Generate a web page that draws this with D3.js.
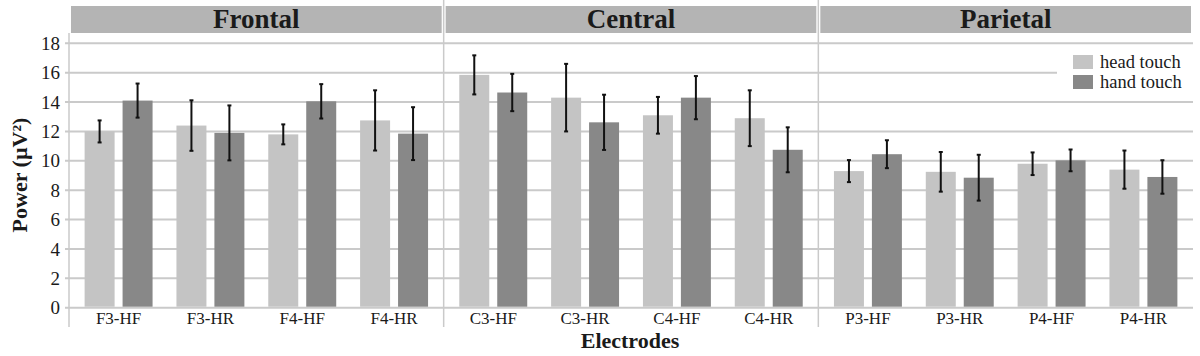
<!DOCTYPE html>
<html>
<head>
<meta charset="utf-8">
<script src="https://cdn.jsdelivr.net/npm/d3@7"></script>
<style>
  body { margin: 0; background: #fff; }
  text { font-family: "Liberation Serif", "Times New Roman", serif; fill: #1a1a1a; }
</style>
</head>
<body>
<script>
// regions and electrodes
var regions = ["Frontal", "Central", "Parietal"];
var electrodes = [
  ["F3-HF", "F3-HR", "F4-HF", "F4-HR"],
  ["C3-HF", "C3-HR", "C4-HF", "C4-HR"],
  ["P3-HF", "P3-HR", "P4-HF", "P4-HR"]
];
var seriesNames = ["head touch", "hand touch"];

// mean power per electrode (same order as electrodes, flattened)
var headTouch = [12.0, 12.4, 11.8, 12.75, 15.85, 14.3, 13.1, 12.9, 9.3, 9.25, 9.8, 9.4];
var handTouch = [14.1, 11.9, 14.05, 11.85, 14.65, 12.62, 14.3, 10.75, 10.45, 8.85, 10.03, 8.9];
var headErr = [0.75, 1.72, 0.68, 2.05, 1.33, 2.3, 1.25, 1.9, 0.75, 1.35, 0.77, 1.3];
var handErr = [1.16, 1.87, 1.17, 1.8, 1.27, 1.88, 1.47, 1.53, 0.95, 1.56, 0.74, 1.14];
var yTicks = [0, 2, 4, 6, 8, 10, 12, 14, 16, 18];

const W = 1200, H = 356;
const margin = {top: 43, left: 69, right: 7, bottom: 49};
const plotW = W - margin.left - margin.right,
      plotH = H - margin.top - margin.bottom;

var headColor = "#c4c4c4", handColor = "#888888", gridColor = "#cacaca";

var svg = d3.select("body").append("svg")
  .attr("width", W)
  .attr("height", H);

var y = d3.scaleLinear()
  .domain([0, 18])
  .range([margin.top + plotH + 0.7, margin.top + 0.3]);

var panel = d3.scaleBand()
  .domain(regions)
  .range([margin.left, margin.left + plotW])
  .padding(0);

// gridlines
svg.append("g")
  .selectAll("line")
  .data(yTicks)
  .enter()
  .append("line")
  .attr("x1", margin.left - 4)
  .attr("x2", margin.left + plotW)
  .attr("y1", function(d) { return y(d); })
  .attr("y2", function(d) { return y(d); })
  .attr("stroke", gridColor)
  .attr("stroke-width", 2);

// y tick labels
svg.append("g")
  .selectAll("text")
  .data(yTicks)
  .enter()
  .append("text")
  .attr("x", 60)
  .attr("y", function(d) { return y(d); })
  .attr("dy", "0.35em")
  .attr("text-anchor", "end")
  .style("font-size", "19px")
  .text(function(d) { return d; });

// left axis line and panel dividers
svg.append("line")
  .attr("x1", margin.left).attr("x2", margin.left)
  .attr("y1", 33).attr("y2", 327)
  .attr("stroke", gridColor).attr("stroke-width", 1.5);

svg.append("g")
  .selectAll("line")
  .data(regions.slice(1))
  .enter()
  .append("line")
  .attr("x1", function(d) { return panel(d); })
  .attr("x2", function(d) { return panel(d); })
  .attr("y1", 0).attr("y2", 327)
  .attr("stroke", gridColor).attr("stroke-width", 1.5);

// headers
var headers = svg.append("g")
  .selectAll("g")
  .data(regions)
  .enter()
  .append("g");

headers.append("rect")
  .attr("x", function(d) { return panel(d) + 2; })
  .attr("y", 6)
  .attr("width", panel.bandwidth() - 4)
  .attr("height", 27)
  .attr("fill", "#b4b4b4");

headers.append("text")
  .attr("x", function(d) { return panel(d) + panel.bandwidth() / 2; })
  .attr("y", 28)
  .attr("text-anchor", "middle")
  .style("font-size", "27px")
  .style("font-weight", "bold")
  .text(function(d) { return d; });

// legend box (covers a gridline)
svg.append("rect")
  .attr("x", 1057).attr("y", 48)
  .attr("width", 136).attr("height", 48)
  .attr("fill", "#fff");

// bars
regions.forEach(function(region, ri) {
  var x = d3.scaleBand()
    .domain(electrodes[ri])
    .range([panel(region), panel(region) + panel.bandwidth()])
    .paddingInner(0.26)
    .paddingOuter(0.17);
  var sub = d3.scaleBand()
    .domain(seriesNames)
    .range([0, x.bandwidth()])
    .paddingInner(0.21);

  var rows = electrodes[ri].map(function(e, i) {
    var k = ri * 4 + i;
    return {name: e, vals: [
      {s: seriesNames[0], v: headTouch[k], err: headErr[k], c: headColor},
      {s: seriesNames[1], v: handTouch[k], err: handErr[k], c: handColor}
    ]};
  });

  var g = svg.append("g");
  var cat = g.selectAll(".cat")
    .data(rows)
    .enter()
    .append("g")
    .attr("class", "cat")
    .attr("transform", function(d) { return "translate(" + x(d.name) + ",0)"; });

  cat.selectAll("rect")
    .data(function(d) { return d.vals; })
    .enter()
    .append("rect")
    .attr("x", function(d) { return sub(d.s); })
    .attr("width", sub.bandwidth())
    .attr("y", function(d) { return y(d.v); })
    .attr("height", function(d) { return y(0) - y(d.v) - 1; })
    .attr("fill", function(d) { return d.c; });

  var eb = cat.selectAll(".err")
    .data(function(d) { return d.vals; })
    .enter()
    .append("g")
    .attr("class", "err")
    .attr("transform", function(d) { return "translate(" + (sub(d.s) + sub.bandwidth() / 2) + ",0)"; });
  eb.append("line")
    .attr("y1", function(d) { return y(d.v + d.err); })
    .attr("y2", function(d) { return y(d.v - d.err); })
    .attr("stroke", "#111").attr("stroke-width", 2);
  eb.append("line")
    .attr("x1", -2).attr("x2", 2)
    .attr("y1", function(d) { return y(d.v + d.err); })
    .attr("y2", function(d) { return y(d.v + d.err); })
    .attr("stroke", "#111").attr("stroke-width", 2);
  eb.append("line")
    .attr("x1", -2).attr("x2", 2)
    .attr("y1", function(d) { return y(d.v - d.err); })
    .attr("y2", function(d) { return y(d.v - d.err); })
    .attr("stroke", "#111").attr("stroke-width", 2);

  // category labels
  g.selectAll(".lbl")
    .data(electrodes[ri])
    .enter()
    .append("text")
    .attr("class", "lbl")
    .attr("x", function(d) { return x(d) + x.bandwidth() / 2; })
    .attr("y", 324)
    .attr("text-anchor", "middle")
    .style("font-size", "17px")
    .text(function(d) { return d; });
});

// legend
var legend = svg.append("g")
  .selectAll("g")
  .data(seriesNames)
  .enter()
  .append("g")
  .attr("transform", function(d, i) { return "translate(1073," + (55 + i * 20) + ")"; });
legend.append("rect")
  .attr("width", 20).attr("height", 14)
  .attr("fill", function(d, i) { return i === 0 ? headColor : handColor; });
legend.append("text")
  .attr("x", 27).attr("y", 13)
  .style("font-size", "18.5px")
  .text(function(d) { return d; });

// axis titles
svg.append("text")
  .attr("x", 630).attr("y", 348)
  .attr("text-anchor", "middle")
  .style("font-size", "22px")
  .style("font-weight", "bold")
  .text("Electrodes");

svg.append("text")
  .attr("transform", "translate(27,175) rotate(-90)")
  .attr("text-anchor", "middle")
  .style("font-size", "22px")
  .style("font-weight", "bold")
  .text("Power (µV²)");
</script>
</body>
</html>
